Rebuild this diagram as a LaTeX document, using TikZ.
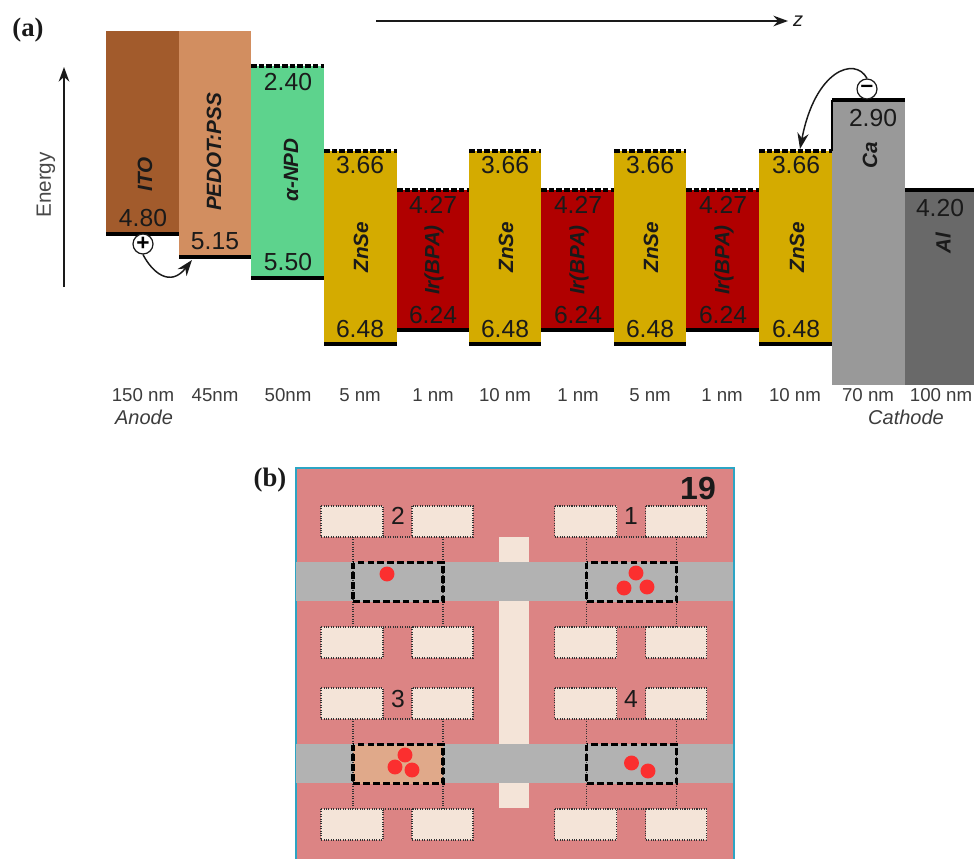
\documentclass[tikz,border=0pt]{standalone}
\usepackage{fontspec}
\setmainfont{Liberation Sans}
\newfontfamily\serifhead{Liberation Serif}
\usetikzlibrary{arrows.meta}
\definecolor{ito}{HTML}{A25B2C}
\definecolor{pedot}{HTML}{D28E60}
\definecolor{npd}{HTML}{5DD38D}
\definecolor{znse}{HTML}{D4AB00}
\definecolor{irb}{HTML}{B00000}
\definecolor{cal}{HTML}{999999}
\definecolor{alu}{HTML}{696969}
\definecolor{chip}{HTML}{DC8484}
\definecolor{rim}{HTML}{2CA5C4}
\definecolor{band}{HTML}{B2B2B2}
\definecolor{padc}{HTML}{F4E4D8}
\definecolor{warm}{HTML}{E0A98A}
\definecolor{dotc}{HTML}{FB2F2F}
\definecolor{ink}{HTML}{1A1A1A}
\tikzset{
  levelnum/.style={font=\fontsize{18.5}{20}\selectfont,text=ink,inner sep=0pt},
  layername/.style={font=\fontsize{15.5}{17}\selectfont\bfseries\itshape,text=ink,rotate=90,inner sep=0pt},
  thick label/.style={font=\fontsize{14}{16}\selectfont,text=ink!85,inner sep=0pt},
  solidbar/.style={line width=2.6pt,black},
  dashbar/.style={line width=2.6pt,black,dash pattern=on 4.2pt off 1.6pt},
  padbox/.style={fill=padc,draw=black!80,line width=0.8pt,dash pattern=on 0.8pt off 1pt},
  dotline/.style={draw=black!80,line width=0.8pt,dash pattern=on 0.8pt off 1pt},
  trapbox/.style={draw=black,line width=2.4pt,dash pattern=on 5pt off 2.4pt},
  ion/.style={fill=dotc,draw=none},
  carrier/.style={circle,draw=ink,fill=white,line width=0.9pt,minimum size=15pt,inner sep=0pt,font=\fontsize{17}{17}\selectfont\bfseries},
  axisarrow/.style={draw=ink,line width=1pt,-{Stealth[length=11pt,width=8pt]}},
  hop/.style={draw=ink,line width=1.1pt,-{Stealth[length=12pt,width=8.5pt]}},
}
\newcommand{\bandlayer}[6]{%
  \fill[#6] (#1,#2) rectangle (#3,#4);
  \draw[#5] (#1,#2) -- (#3,#2);
  \draw[solidbar] (#1,#4) -- (#3,#4);}
\newcommand{\transistor}[4]{% x of left pad, top pad y, name, fill
  \pgfmathsetmacro{\xa}{#1}\pgfmathsetmacro{\xb}{#1+62}\pgfmathsetmacro{\xc}{#1+91}\pgfmathsetmacro{\xd}{#1+152}
  \pgfmathsetmacro{\xe}{#1+32}\pgfmathsetmacro{\xf}{#1+122}
  \pgfmathsetmacro{\ya}{#2}\pgfmathsetmacro{\yb}{#2+31}\pgfmathsetmacro{\yc}{#2+121}\pgfmathsetmacro{\yd}{#2+152}
  \pgfmathsetmacro{\ye}{#2+56.5}\pgfmathsetmacro{\yf}{#2+95.5}
  \fill[#4] (\xe,\ye) rectangle (\xf,\yf);
  \draw[dotline] (\xe,\yb) -- (\xe,\yc);
  \draw[dotline] (\xf,\yb) -- (\xf,\yc);
  \draw[dotline] (\xb,\yb) -- (\xc,\yb);
  \draw[dotline] (\xb,\yc) -- (\xc,\yc);
  \draw[padbox] (\xa,\ya) rectangle (\xb,\yb);
  \draw[padbox] (\xc,\ya) rectangle (\xd,\yb);
  \draw[padbox] (\xa,\yc) rectangle (\xb,\yd);
  \draw[padbox] (\xc,\yc) rectangle (\xd,\yd);
  \draw[trapbox] (\xe,\ye) rectangle (\xf,\yf);}
\begin{document}
\begin{tikzpicture}[x=0.75pt,y=-0.75pt]
\useasboundingbox (0,0) rectangle (974,859);
% ----- panel (a)
\node[font=\serifhead\fontsize{20}{21}\selectfont\bfseries,inner sep=0pt,text=ink] (lba) at (28,30) {(a)};
\coordinate (zs) at (376,21); \coordinate (ze) at (788,21);
\draw[axisarrow] (zs) -- (ze);
\node[font=\fontsize{15}{16}\selectfont\itshape,inner sep=0pt,text=ink] (zl) at (798,21) {z};
\coordinate (es) at (64,287); \coordinate (ee) at (64,67);
\draw[axisarrow] (es) -- (ee);
\node[font=\fontsize{15.5}{17}\selectfont,rotate=90,inner sep=0pt,text=ink!80] (en) at (46,185) {Energy};

\fill[ito] (106,31) rectangle (179,234);
\draw[solidbar] (106,234) -- (179,234);
\fill[pedot] (179,31) rectangle (251,257);
\draw[solidbar] (179,257) -- (251,257);
\bandlayer{251}{66}{324}{278}{dashbar}{npd}
\bandlayer{397}{190}{469}{330}{dashbar}{irb}
\bandlayer{541}{190}{614}{330}{dashbar}{irb}
\bandlayer{686}{190}{759}{330}{dashbar}{irb}
\bandlayer{324}{151}{397}{344}{dashbar}{znse}
\bandlayer{469}{151}{541}{344}{dashbar}{znse}
\bandlayer{614}{151}{686}{344}{dashbar}{znse}
\bandlayer{759}{151}{832}{344}{dashbar}{znse}
\fill[cal] (832,100) rectangle (905,385);
\draw[black,line width=1pt] (832,100) -- (832,151);
\draw[solidbar] (832,100) -- (905,100);
\fill[alu] (905,190) rectangle (974,385);
\draw[solidbar] (905,190) -- (974,190);

\foreach \n/\x/\y/\t in {a/143/218/4.80,b/215/241/5.15,c/288/82/2.40,d/288/262/5.50,
  e/360/165/3.66,f/360/329/6.48,g/505/165/3.66,h/505/329/6.48,i/650/165/3.66,j/650/329/6.48,
  k/796/165/3.66,l/796/329/6.48,m/433/205/4.27,n/433/315/6.24,o/578/205/4.27,p/578/315/6.24,
  q/723/205/4.27,r/723/315/6.24,s/873/118/2.90,t/940/208/4.20}
  {\node[levelnum] (lv\n) at (\x,\y) {\t};}
\foreach \n/\x/\y/\t in {a/145/174/ITO,b/214/152/PEDOT:PSS,c/291/170/α-NPD,
  d/361/247/ZnSe,e/506/247/ZnSe,f/651/247/ZnSe,g/797/247/ZnSe,
  h/434/260/Ir(BPA),i/579/260/Ir(BPA),j/724/260/Ir(BPA),k/870/155/Ca,l/943/243/Al}
  {\node[layername] (nm\n) at (\x,\y) {\t};}
\foreach \n/\x/\t in {a/143/150 nm,b/215/45nm,c/288/50nm,d/360/5 nm,e/433/1 nm,f/505/10 nm,
  g/578/1 nm,h/650/5 nm,i/722/1 nm,j/795/10 nm,k/868/70 nm,l/941/100 nm}
  {\node[thick label] (th\n) at (\x,395) {\t};}
\node[thick label,font=\fontsize{15}{16}\selectfont\itshape] (anode) at (144,417) {Anode};
\node[thick label,font=\fontsize{15}{16}\selectfont\itshape] (cathode) at (906,417) {Cathode};

\node[carrier] (plus) at (143,244) {+};
\node[carrier] (minus) at (867,89) {–};
\coordinate (pe) at (192,260);
\coordinate (me) at (800,149);
\draw[hop] (plus.south) .. controls (152,272) and (170,288) .. (pe);
\draw[hop] (minus.north) .. controls (855,56) and (815,70) .. (me);

% ----- panel (b)
\node[font=\serifhead\fontsize{20}{21}\selectfont\bfseries,inner sep=0pt,text=ink] (lbb) at (270,480) {(b)};
\fill[rim] (295,467) rectangle (735,859);
\fill[chip] (297,469) rectangle (733,859);
\fill[padc] (499,537) rectangle (529,808);
\fill[band] (296,562) rectangle (733,601);
\fill[band] (296,744) rectangle (733,783);
\transistor{321}{506}{t2}{band}
\transistor{554.5}{506}{t1}{band}
\transistor{321}{688}{t3}{warm}
\transistor{554.5}{688}{t4}{band}
\foreach \x/\y in {387/574,636/573,624/588,647/587,405/755,395/767,412/770,631.5/763,648/771}
  {\fill[ion] (\x,\y) circle (5.6pt);}
\node[font=\fontsize{24}{26}\selectfont\bfseries,inner sep=0pt,text=ink] (chipno) at (698,488) {19};
\foreach \n/\x/\y/\t in {a/631/516/1,b/398/516/2,c/398/699/3,d/631/699/4}
  {\node[levelnum] (tn\n) at (\x,\y) {\t};}
\end{tikzpicture}
\end{document}
